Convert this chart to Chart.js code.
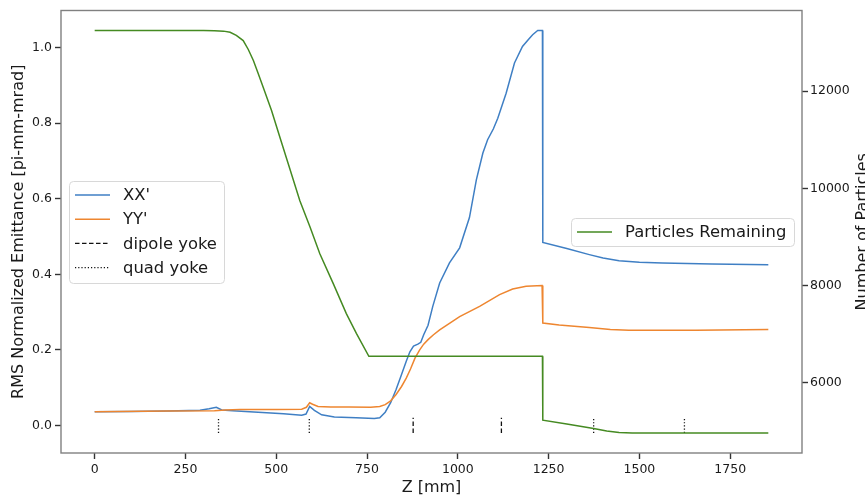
<!DOCTYPE html>
<html>
<head>
<meta charset="utf-8">
<title>RMS emittance and particle count along Z</title>
<script src="https://cdn.jsdelivr.net/npm/chart.js@4.4.1/dist/chart.umd.min.js"></script>
<style>
  html, body { margin: 0; padding: 0; background: #fff; }
  #wrap { width: 865px; height: 497px; }
</style>
</head>
<body>
<div id="wrap"><canvas id="emittanceChart" width="865" height="497"></canvas></div>
<script>
// Horizontal RMS normalized emittance [pi-mm-mrad] vs Z [mm]
const xxZ = [0, 100, 200, 290, 315, 335, 350, 380, 450, 520, 570, 582, 592, 605, 625, 660, 720, 770, 785,
  800, 815, 830, 845, 858, 868, 878, 890, 898, 906, 918, 931, 950, 977, 1005, 1032, 1051, 1069, 1082,
  1098, 1110, 1133, 1156, 1178, 1195, 1206, 1220, 1233, 1234, 1300, 1362, 1400, 1444, 1500, 1563, 1700, 1855];
const xxEmit = [0.036, 0.037, 0.038, 0.040, 0.044, 0.048, 0.041, 0.039, 0.035, 0.031, 0.027, 0.030, 0.050,
  0.040, 0.028, 0.022, 0.020, 0.018, 0.020, 0.035, 0.060, 0.095, 0.135, 0.170, 0.195, 0.210, 0.215, 0.220,
  0.240, 0.265, 0.315, 0.377, 0.430, 0.470, 0.550, 0.650, 0.721, 0.756, 0.785, 0.813, 0.879, 0.959, 1.003,
  1.022, 1.034, 1.045, 1.045, 0.484, 0.468, 0.452, 0.443, 0.436, 0.432, 0.430, 0.427, 0.425];

// Vertical RMS normalized emittance [pi-mm-mrad] vs Z [mm]
const yyZ = [0, 200, 330, 360, 400, 500, 570, 583, 592, 600, 615, 650, 700, 760, 785, 800, 815, 830, 845,
  858, 870, 882, 895, 906, 918, 933, 950, 1005, 1060, 1115, 1151, 1188, 1232, 1234, 1279, 1362, 1420,
  1471, 1655, 1855];
const yyEmit = [0.036, 0.038, 0.039, 0.041, 0.042, 0.042, 0.043, 0.048, 0.060, 0.056, 0.050, 0.049, 0.049,
  0.048, 0.050, 0.055, 0.065, 0.082, 0.103, 0.125, 0.150, 0.178, 0.200, 0.215, 0.227, 0.240, 0.253, 0.288,
  0.315, 0.346, 0.361, 0.368, 0.370, 0.271, 0.266, 0.259, 0.254, 0.252, 0.252, 0.254];

// Particles still in the beam vs Z [mm]
const particleZ = [0, 300, 330, 355, 373, 390, 409, 423, 437, 450, 464, 487, 510, 533, 565, 593, 620, 657,
  693, 721, 755, 1233, 1234, 1300, 1374, 1410, 1444, 1480, 1855];
const particleCount = [13249, 13249, 13246, 13238, 13214, 13150, 13043, 12860, 12632, 12370, 12082, 11601,
  11053, 10506, 9745, 9202, 8654, 8037, 7420, 7008, 6541, 6541, 5224, 5145, 5053, 5000, 4971, 4963, 4963];

// Magnet yoke locations [mm] and the height of their markers on the emittance axis
const dipoleYokeZ = [877, 1120];
const quadYokeZ = [341, 591, 1374, 1624];
const yokeMarkSpan = [-0.02, 0.02];

// Axis ticks
const zTicks = [0, 250, 500, 750, 1000, 1250, 1500, 1750];
const emitTicks = [0.0, 0.2, 0.4, 0.6, 0.8, 1.0];
const countTicks = [6000, 8000, 10000, 12000];

const FONT = 'DejaVu Sans';
const TEXT = '#1a1a1a';
const tickFont = { family: FONT, size: 12.5 };
const titleFont = { family: FONT, size: 16 };

function toPoints(zs, vals) {
  return zs.map((z, i) => ({ x: z, y: vals[i] }));
}

// short vertical strokes, one per yoke, broken apart by null points
function markerPoints(zs) {
  const pts = [];
  zs.forEach(z => {
    pts.push({ x: z, y: yokeMarkSpan[0] }, { x: z, y: yokeMarkSpan[1] }, { x: z, y: null });
  });
  return pts;
}

// frame around the plot area plus the two legend boxes and the right axis label
const framePlugin = {
  id: 'frameAndLegends',
  afterDatasetsDraw(chart, args, opts) {
    const { ctx, chartArea: a } = chart;
    ctx.save();
    ctx.strokeStyle = '#808080';
    ctx.lineWidth = 1.4;
    ctx.strokeRect(a.left, a.top, a.right - a.left, a.bottom - a.top);

    // right axis title, rotated to read bottom-to-top
    const t = chart.options.scales.y2.title;
    ctx.fillStyle = TEXT;
    ctx.font = `${titleFont.size}px "${FONT}"`;
    ctx.textAlign = 'center';
    ctx.textBaseline = 'middle';
    ctx.translate(opts.rightTitleX, (a.top + a.bottom) / 2);
    ctx.rotate(-Math.PI / 2);
    ctx.fillText(t.text, 0, 0);
    ctx.restore();

    opts.boxes.forEach(box => {
      const items = chart.data.datasets.filter(d => d.legendGroup === box.group);
      ctx.save();
      ctx.beginPath();
      ctx.roundRect(box.x + 0.5, box.y + 0.5, box.w, box.h, 4);
      ctx.fillStyle = 'rgba(255,255,255,0.85)';
      ctx.fill();
      ctx.strokeStyle = '#d8d8d8';
      ctx.lineWidth = 1;
      ctx.stroke();

      ctx.font = `${opts.fontSize}px "${FONT}"`;
      ctx.textAlign = 'left';
      ctx.textBaseline = 'middle';
      items.forEach((d, i) => {
        const y = box.y + opts.firstRow + i * opts.rowStep;
        ctx.beginPath();
        ctx.setLineDash(d.borderDash || []);
        ctx.strokeStyle = d.borderColor;
        ctx.lineWidth = d.borderWidth;
        ctx.moveTo(box.x + 6, y);
        ctx.lineTo(box.x + 41, y);
        ctx.stroke();
        ctx.setLineDash([]);
        ctx.fillStyle = TEXT;
        ctx.fillText(d.label, box.x + 54, y + 1);
      });
      ctx.restore();
    });
  }
};

const lineStyle = { pointRadius: 0, borderWidth: 1.5, tension: 0, fill: false };

new Chart(document.getElementById('emittanceChart').getContext('2d'), {
  type: 'line',
  data: {
    datasets: [
      Object.assign({ label: "XX'", data: toPoints(xxZ, xxEmit), borderColor: '#3f7fc4',
        yAxisID: 'y', legendGroup: 'emit', order: 4 }, lineStyle),
      Object.assign({ label: "YY'", data: toPoints(yyZ, yyEmit), borderColor: '#ee8630',
        yAxisID: 'y', legendGroup: 'emit', order: 3 }, lineStyle),
      Object.assign({}, lineStyle, { label: 'dipole yoke', data: markerPoints(dipoleYokeZ), borderColor: '#111',
        borderWidth: 1.3, borderDash: [4.5, 2.5], yAxisID: 'y', legendGroup: 'emit', order: 2 }),
      Object.assign({}, lineStyle, { label: 'quad yoke', data: markerPoints(quadYokeZ), borderColor: '#111',
        borderWidth: 1.3, borderDash: [1.2, 2], yAxisID: 'y', legendGroup: 'emit', order: 2 }),
      Object.assign({ label: 'Particles Remaining', data: toPoints(particleZ, particleCount), borderColor: '#458a22',
        yAxisID: 'y2', legendGroup: 'count', order: 1 }, lineStyle)
    ]
  },
  options: {
    responsive: false,
    animation: false,
    devicePixelRatio: 1,
    layout: { padding: { top: 10, left: 0, right: 0, bottom: 0 } },
    scales: {
      x: {
        type: 'linear',
        min: -92.75,
        max: 1947.75,
        afterBuildTicks: s => { s.ticks = zTicks.map(v => ({ value: v })); },
        afterFit: s => { s.height = 44; },
        grid: { display: true, drawOnChartArea: false, drawTicks: true, tickLength: 6, tickWidth: 1.4, tickColor: '#333' },
        border: { display: false },
        ticks: { font: tickFont, color: TEXT, padding: 3, maxRotation: 0, callback: v => String(v) },
        title: { display: true, text: 'Z [mm]', font: titleFont, color: TEXT, padding: { top: 0, bottom: 0 } }
      },
      y: {
        type: 'linear',
        position: 'left',
        min: -0.073,
        max: 1.098,
        afterBuildTicks: s => { s.ticks = emitTicks.map(v => ({ value: v })); },
        afterFit: s => { s.width = 61; },
        grid: { display: true, drawOnChartArea: false, drawTicks: true, tickLength: 6, tickWidth: 1.4, tickColor: '#333' },
        border: { display: false },
        ticks: { font: tickFont, color: TEXT, padding: 3, callback: v => v.toFixed(1) },
        title: { display: true, text: 'RMS Normalized Emittance [pi-mm-mrad]', font: titleFont, color: TEXT,
          padding: { top: 9, bottom: 0 } }
      },
      y2: {
        type: 'linear',
        position: 'right',
        min: 4549,
        max: 13663,
        afterBuildTicks: s => { s.ticks = countTicks.map(v => ({ value: v })); },
        afterFit: s => { s.width = 63; },
        grid: { display: true, drawOnChartArea: false, drawTicks: true, tickLength: 6, tickWidth: 1.4, tickColor: '#333' },
        border: { display: false },
        ticks: { font: tickFont, color: TEXT, padding: 2, callback: v => String(v) },
        title: { display: false, text: 'Number of Particles' }
      }
    },
    plugins: {
      legend: { display: false },
      tooltip: { enabled: false },
      frameAndLegends: {
        rightTitleX: 862.5,
        fontSize: 16.4,
        firstRow: 14,
        rowStep: 24.2,
        boxes: [
          { group: 'emit', x: 69, y: 181, w: 155, h: 102 },
          { group: 'count', x: 571, y: 218, w: 223, h: 28 }
        ]
      }
    }
  },
  plugins: [framePlugin]
});
</script>
</body>
</html>
